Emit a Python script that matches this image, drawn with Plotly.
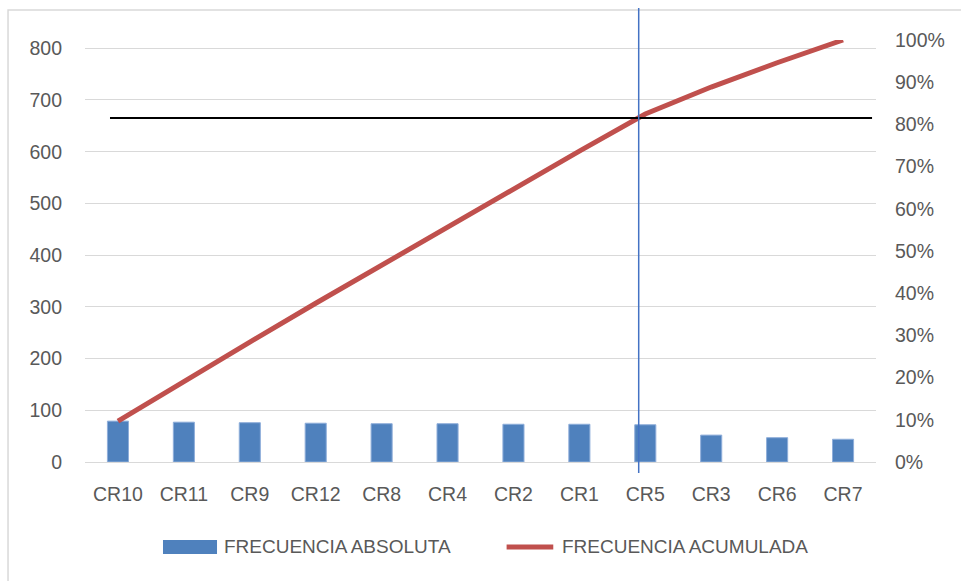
import plotly.graph_objects as go
import numpy as np

categories = ["CR10", "CR11", "CR9", "CR12", "CR8", "CR4", "CR2", "CR1", "CR5", "CR3", "CR6", "CR7"]
freq_abs = [79, 77, 76, 75, 74, 74, 73, 73, 72, 52, 47, 44]
left_ticks = [0, 100, 200, 300, 400, 500, 600, 700, 800]
right_ticks = [0, 0.1, 0.2, 0.3, 0.4, 0.5, 0.6, 0.7, 0.8, 0.9, 1.0]
legend_names = ["FRECUENCIA ABSOLUTA", "FRECUENCIA ACUMULADA"]

total = sum(freq_abs)
freq_acum = list(np.cumsum(freq_abs) / total)

FONT = "Liberation Sans, Arial, sans-serif"
GRAY = "#595959"
BLUE = "#4F81BD"
RED = "#C0504D"

fig = go.Figure()
fig.add_trace(go.Bar(x=categories, y=freq_abs, name=legend_names[0],
                     marker=dict(color=BLUE, line=dict(color="#8FAEDA", width=1)),
                     yaxis="y", showlegend=False))
fig.add_trace(go.Scatter(x=categories, y=freq_acum, name=legend_names[1],
                         mode="lines", line=dict(color=RED, width=5),
                         yaxis="y2", showlegend=False))

ly = -0.2014
fig.update_layout(
    width=961, height=581,
    margin=dict(l=85, r=85, t=40, b=119),
    paper_bgcolor="white", plot_bgcolor="white",
    font=dict(family=FONT, size=19, color=GRAY),
    bargap=0.68,
    showlegend=False,
    xaxis=dict(type="category", showgrid=False, ticks="", showline=False,
               ticklabelstandoff=18, tickfont=dict(size=19.5, color=GRAY)),
    yaxis=dict(range=[0, total], tickvals=left_ticks, showgrid=True,
               gridcolor="#D9D9D9", gridwidth=1, zeroline=True, zerolinecolor="#D9D9D9",
               zerolinewidth=1, ticks="", ticklabelstandoff=22, showline=False,
               tickfont=dict(size=19.5, color=GRAY)),
    yaxis2=dict(range=[0, 1], tickvals=right_ticks, tickformat=".0%", overlaying="y",
                side="right", showgrid=False, zeroline=False, ticks="", showline=False,
                ticklabelstandoff=18, tickfont=dict(size=19.5, color=GRAY)),
    shapes=[
        dict(type="rect", xref="paper", yref="paper", x0=-0.0973, x1=1.3,
             y0=-0.5, y1=1.071, line=dict(color="#D9D9D9", width=1.5), layer="below"),
        dict(type="line", xref="paper", yref="paper", x0=0.0316, x1=0.995,
             y0=0.815, y1=0.815, line=dict(color="black", width=2)),
        dict(type="line", xref="x", yref="paper", x0=7.9, x1=7.9,
             y0=-0.026, y1=1.076, line=dict(color="#4472C4", width=1.5)),
        # manual legend symbols
        dict(type="rect", xref="paper", yref="paper", x0=0.0986, x1=0.1669,
             y0=-0.218, y1=-0.1848, fillcolor=BLUE, line=dict(width=0)),
        dict(type="line", xref="paper", yref="paper", x0=0.533, x1=0.592,
             y0=ly, y1=ly, line=dict(color=RED, width=5)),
    ],
    annotations=[
        dict(xref="paper", yref="paper", x=0.1732, y=ly, xanchor="left", yanchor="middle",
             text=legend_names[0], showarrow=False, font=dict(size=19, color=GRAY)),
        dict(xref="paper", yref="paper", x=0.6005, y=ly, xanchor="left", yanchor="middle",
             text=legend_names[1], showarrow=False, font=dict(size=19, color=GRAY)),
    ],
)

fig.write_html("out.html")
